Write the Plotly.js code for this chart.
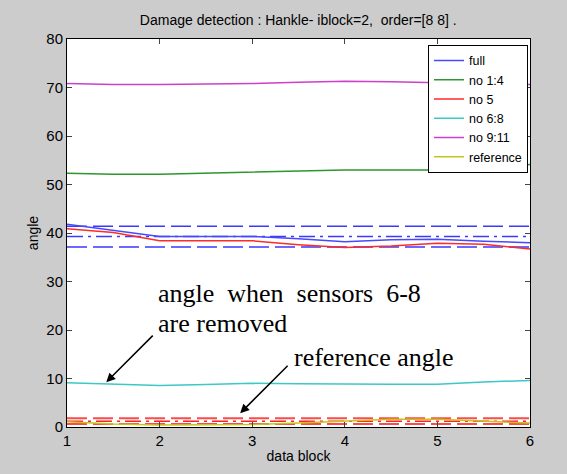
<!DOCTYPE html>
<html>
<head>
<meta charset="utf-8">
<script src="https://cdn.plot.ly/plotly-3.0.1.min.js"></script>
<style>
html,body{margin:0;padding:0;background:#cccccc;}
#chart{width:567px;height:474px;}
</style>
</head>
<body>
<div id="chart"></div>
<script>
// Data blocks (x axis)
const dataBlock = [1, 1.5, 2, 2.5, 3, 3.5, 4, 4.5, 5, 5.5, 6];

// Angle series
const fullAngle      = [41.8, 40.6, 39.3, 39.3, 39.3, 38.8, 38.2, 38.6, 38.7, 38.3, 38.0];
const no1to4Angle    = [52.3, 52.1, 52.1, 52.3, 52.5, 52.8, 53.0, 53.0, 53.0, 53.5, 54.1];
const no5Angle       = [40.9, 40.1, 38.4, 38.4, 38.4, 37.6, 37.0, 37.3, 37.9, 37.7, 36.7];
const no6to8Angle    = [9.1, 8.75, 8.55, 8.75, 9.0, 8.9, 8.8, 8.8, 8.8, 9.3, 9.6];
const no9to11Angle   = [70.8, 70.6, 70.6, 70.7, 70.8, 71.1, 71.3, 71.2, 71.0, 70.8, 70.6];
const referenceAngle = [1.1, 0.6, 0.4, 0.4, 0.5, 0.8, 1.2, 1.6, 1.6, 1.2, 0.8];

// Threshold levels (horizontal lines across the data blocks)
const thresholdX = [1, 6];
const fullUpper = 41.4, fullMean = 39.3, fullLower = 37.1;
const refUpper = 1.8, refMean = 1.2, refLower = 0.6;

const seriesNames = ['full', 'no 1:4', 'no 5', 'no 6:8', 'no 9:11', 'reference'];
const seriesData = [fullAngle, no1to4Angle, no5Angle, no6to8Angle, no9to11Angle, referenceAngle];
const seriesColors = ['#4848ff', '#2e962e', '#ff2a2a', '#3cc8c8', '#cc40cc', '#c4c41e'];

const traces = [];
function hline(v, color, dash, w) {
  return {x: thresholdX, y: [v, v], mode: 'lines', showlegend: false, hoverinfo: 'skip',
          line: {color: color, dash: dash, width: w}};
}
const dashed = '20px,6px';
const dashdot = '16px,5px,3px,5px';
traces.push(hline(fullUpper, '#3a3aff', dashed, 1.5));
traces.push(hline(fullMean, '#3a3aff', dashdot, 1.5));
traces.push(hline(fullLower, '#3a3aff', dashed, 1.5));
traces.push(hline(refUpper, '#ff4a4a', dashed, 2));
traces.push(hline(refMean, '#ff2020', dashdot, 1.5));
traces.push(hline(refLower, '#ff4a4a', dashed, 2));

for (let i = 0; i < seriesNames.length; i++) {
  traces.push({x: dataBlock, y: seriesData[i], name: seriesNames[i], mode: 'lines',
               line: {color: seriesColors[i], width: 1.5}});
}

const annFont = {family: 'Liberation Serif, Times New Roman, serif', size: 26, color: '#000000'};

const layout = {
  width: 567, height: 474,
  paper_bgcolor: '#cccccc', plot_bgcolor: '#ffffff',
  margin: {l: 67, r: 37, t: 39, b: 47},
  font: {family: 'Liberation Sans, Arial, sans-serif', size: 15, color: '#000000'},
  title: {text: 'Damage detection : Hankle- iblock=2,  order=[8 8] .',
          font: {size: 14, family: 'Liberation Sans, Arial, sans-serif'},
          x: 0.526, xanchor: 'center', y: 0.958, yanchor: 'middle'},
  xaxis: {range: [1, 6], tickvals: [1, 2, 3, 4, 5, 6], ticks: 'inside', ticklen: 5,
          showline: true, linecolor: '#000000', linewidth: 1, mirror: 'allticks',
          showgrid: false, zeroline: false, tickfont: {size: 15},
          title: {text: 'data block', font: {size: 14}, standoff: 3}},
  yaxis: {range: [0, 80], tickvals: [0, 10, 20, 30, 40, 50, 60, 70, 80], ticks: 'inside', ticklen: 5,
          showline: true, linecolor: '#000000', linewidth: 1, mirror: 'allticks',
          showgrid: false, zeroline: false, tickfont: {size: 15},
          title: {text: 'angle', font: {size: 14}, standoff: 4}},
  legend: {x: 0.9957, y: 0.985, xanchor: 'right', yanchor: 'top',
           bgcolor: '#ffffff', bordercolor: '#000000', borderwidth: 1,
           font: {size: 12.5, family: 'Liberation Sans, Arial, sans-serif'}, itemwidth: 30,
           entrywidth: 74, entrywidthmode: 'pixels'},
  annotations: [
    {x: 1.964, y: 27.6, xref: 'x', yref: 'y', text: 'angle  when  sensors  6-8', showarrow: false,
     xanchor: 'left', yanchor: 'middle', font: annFont},
    {x: 1.964, y: 21.4, xref: 'x', yref: 'y', text: 'are removed', showarrow: false,
     xanchor: 'left', yanchor: 'middle', font: annFont},
    {x: 3.432, y: 14.4, xref: 'x', yref: 'y', text: 'reference angle', showarrow: false,
     xanchor: 'left', yanchor: 'middle', font: annFont},
    {x: 1.424, y: 9.24, ax: 1.942, ay: 19.15, xref: 'x', yref: 'y', axref: 'x', ayref: 'y',
     text: '', showarrow: true, arrowhead: 2, arrowsize: 1.2, arrowwidth: 1.5, arrowcolor: '#000000'},
    {x: 2.870, y: 2.83, ax: 3.399, ay: 12.95, xref: 'x', yref: 'y', axref: 'x', ayref: 'y',
     text: '', showarrow: true, arrowhead: 2, arrowsize: 1.2, arrowwidth: 1.5, arrowcolor: '#000000'}
  ]
};

Plotly.newPlot('chart', traces, layout, {displayModeBar: false, staticPlot: true});
</script>
</body>
</html>
